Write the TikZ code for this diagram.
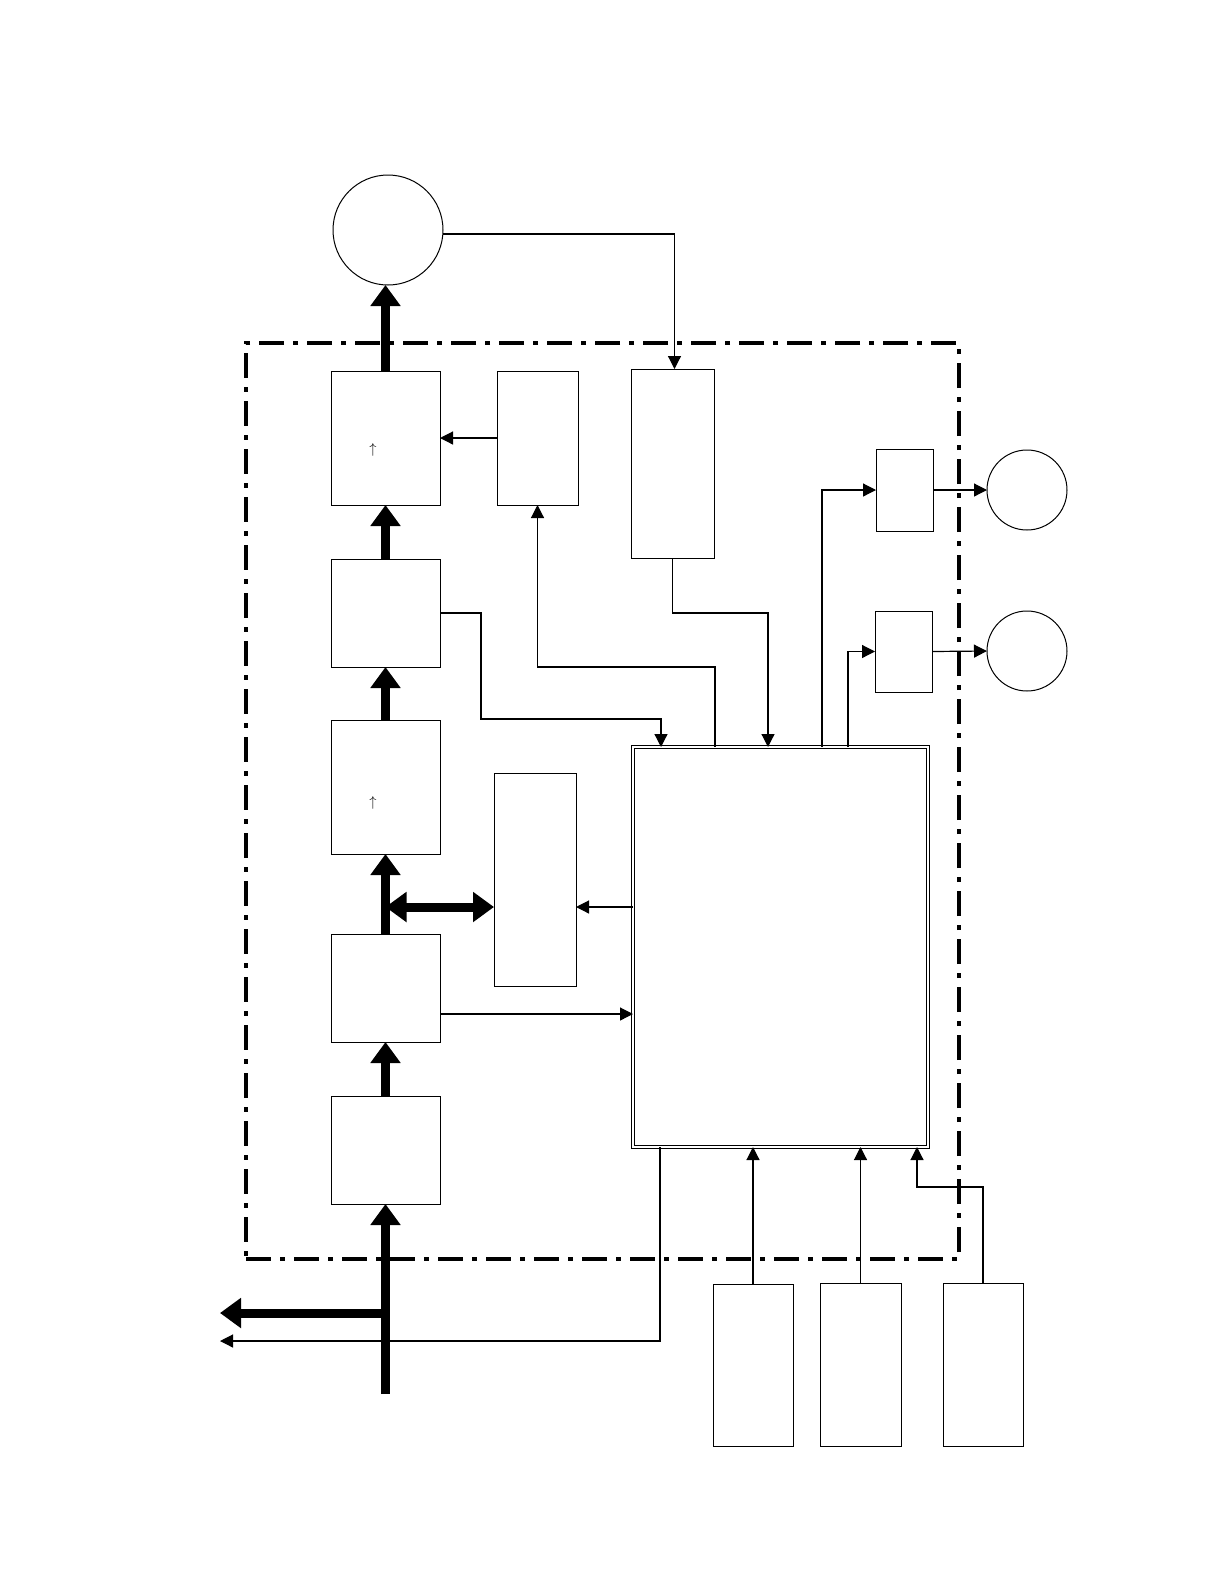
\documentclass[tikz,border=0pt]{standalone}
\usetikzlibrary{arrows.meta}
\tikzset{
    blk/.style={draw, line width=1pt, inner sep=0pt, outer sep=0pt},
    port/.style={draw, circle, line width=1pt, inner sep=0pt, outer sep=0pt},
    mcu/.style={draw, double, line width=1pt, double distance=2.5pt, inner sep=0pt, outer sep=0pt},
    frame/.style={draw, line width=4pt, dash pattern=on 25pt off 9pt on 5pt off 9pt, inner sep=0pt},
    sig/.style={line width=1.2pt, -{Triangle[length=13pt, width=13pt]}},
    bus/.style={line width=9pt, -{Triangle[length=21pt, width=29pt]}},
    glyph/.style={inner sep=0pt, font=\fontsize{14}{16}\selectfont}
}
\begin{document}
\begin{tikzpicture}[x=1pt, y=-1pt]
        \useasboundingbox (0,0) rectangle (1218,1588);
        \node[frame, minimum width=713pt, minimum height=916pt] (board) at (602.5,801) {};

        \node[port, minimum size=110pt] (load) at (388,230) {};
        \node[blk, minimum width=109pt, minimum height=134pt] (out) at (385.5,438) {};
        \node[blk, minimum width=81pt, minimum height=134pt] (drv) at (537.5,438) {};
        \node[blk, minimum width=83pt, minimum height=189pt] (sense) at (672.5,463.5) {};
        \node[blk, minimum width=109pt, minimum height=108pt] (filt) at (385.5,613) {};
        \node[blk, minimum width=109pt, minimum height=134pt] (conv) at (385.5,787) {};
        \node[blk, minimum width=109pt, minimum height=108pt] (meas) at (385.5,988) {};
        \node[blk, minimum width=109pt, minimum height=108pt] (prot) at (385.5,1150) {};
        \node[blk, minimum width=82pt, minimum height=213pt] (aux) at (535,879.5) {};
        \node[mcu, minimum width=295pt, minimum height=400pt] (ctrl) at (780.5,947) {};
        \node[blk, minimum width=57pt, minimum height=82pt] (ind1) at (904.5,490) {};
        \node[blk, minimum width=57pt, minimum height=81pt] (ind2) at (903.5,651.5) {};
        \node[port, minimum size=80pt] (lamp1) at (1027,490) {};
        \node[port, minimum size=80pt] (lamp2) at (1027,651) {};
        \node[blk, minimum width=80pt, minimum height=162pt] (key1) at (753,1365) {};
        \node[blk, minimum width=81pt, minimum height=163pt] (key2) at (860.5,1364.5) {};
        \node[blk, minimum width=80pt, minimum height=163pt] (key3) at (983,1364.5) {};
        \node[glyph] (upout) at (373,450) {$\uparrow$};
        \node[glyph] (upconv) at (373,803) {$\uparrow$};

        \coordinate (busin) at (385.5,1394);
        \coordinate (busout) at (220,1313);
        \coordinate (ackout) at (220,1341);
        \coordinate (tap) at (385.5,907);

        % power path
        \draw[bus] (busin) -- (prot.south);
        \draw[bus] (busin |- busout) -- (busout);
        \draw[bus] (prot.north) -- (meas.south);
        \draw[bus] (meas.north) -- (conv.south);
        \draw[bus] (conv.north) -- (filt.south);
        \draw[bus] (filt.north) -- (out.south);
        \draw[bus] (out.north) -- (out.north |- load.south);
        \draw[bus, {Triangle[length=21pt, width=29pt]}-{Triangle[length=21pt, width=29pt]}] (tap) -- (tap -| aux.west);

        % signals
        \draw[sig] ([yshift=-4pt]load.east) -| ([xshift=2pt]sense.north);
        \draw[sig] (drv.west) -- (out.east);
        \draw[sig] (sense.south) -- ++(0,55) -| ([xshift=135pt]ctrl.north west);
        \draw[sig] (filt.east) -| (481,719) -| ([xshift=28pt]ctrl.north west);
        \draw[sig] ([xshift=82pt]ctrl.north west) -- ++(0,-80) -| (drv.south);
        \draw[sig] ([xshift=189pt]ctrl.north west) |- (ind1.west);
        \draw[sig] ([xshift=215pt]ctrl.north west) |- (ind2.west);
        \draw[sig] (ind1.east) -- (lamp1.west);
        \draw[sig] (ind2.east) -- (lamp2.west);
        \draw[sig] (ctrl.west |- tap) -- (aux.east |- tap);
        \draw[sig] ([yshift=-26pt]meas.east) -- ([yshift=-26pt]meas.east -| ctrl.west);
        \draw[sig] ([xshift=27pt]ctrl.south west) |- (ackout);
        \draw[sig] (key1.north) -- (key1.north |- ctrl.south);
        \draw[sig] (key2.north) -- (key2.north |- ctrl.south);
        \draw[sig] (key3.north) -- ++(0,-96) -| ([xshift=-11pt]ctrl.south east);
    \end{tikzpicture}
\end{document}
